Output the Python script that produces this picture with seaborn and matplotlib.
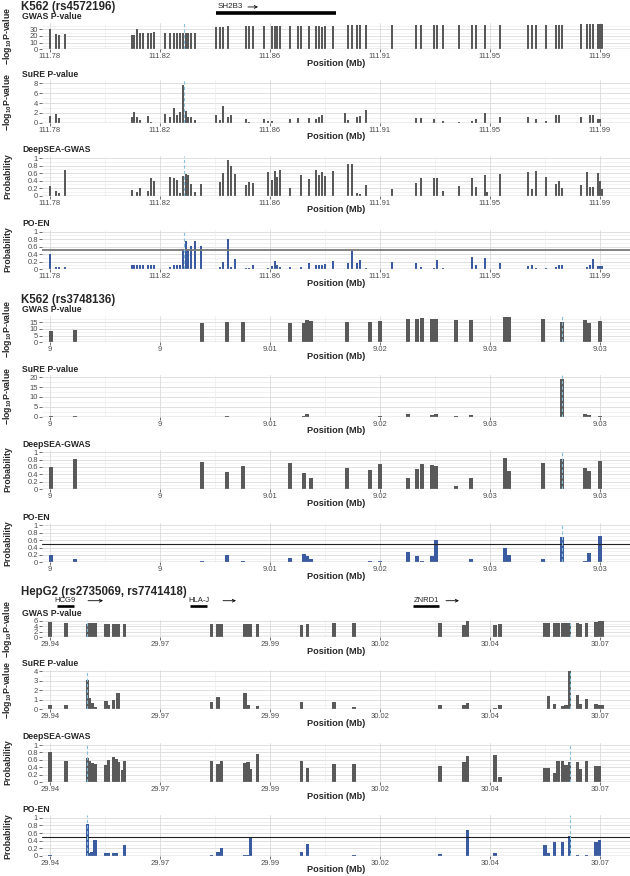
import matplotlib
matplotlib.use("Agg")
import matplotlib.pyplot as plt
import seaborn as sns

sns.set_theme(style="white")
plt.rcParams['font.family'] = ['Liberation Sans', 'DejaVu Sans']
plt.rcParams['mathtext.fontset'] = 'custom'
plt.rcParams['mathtext.rm'] = 'Liberation Sans'
plt.rcParams['mathtext.bf'] = 'Liberation Sans:bold'
plt.rcParams['mathtext.default'] = 'bf'

# ---------------------------------------------------------------- data
# K562 (rs4572196)
s1_pos = [111.7800, 111.7823, 111.7834, 111.7857, 111.8113, 111.8121, 111.8132, 111.8144, 111.8155, 111.8174,
          111.8186, 111.8197, 111.8239, 111.8258, 111.8273, 111.8285, 111.8296, 111.8308, 111.8319, 111.8327,
          111.8338, 111.8354, 111.8377, 111.8434, 111.8449, 111.8461, 111.8480, 111.8491, 111.8506, 111.8548,
          111.8560, 111.8575, 111.8617, 111.8632, 111.8648, 111.8659, 111.8667, 111.8678, 111.8716, 111.8747,
          111.8758, 111.8789, 111.8816, 111.8827, 111.8838, 111.8850, 111.8881, 111.8926, 111.8938, 111.8953,
          111.8972, 111.8984, 111.9006, 111.9106, 111.9197, 111.9217, 111.9266, 111.9278, 111.9300, 111.9362,
          111.9411, 111.9426, 111.9461, 111.9468, 111.9518, 111.9625, 111.9640, 111.9656, 111.9694, 111.9732,
          111.9743, 111.9755, 111.9827, 111.9850, 111.9862, 111.9873, 111.9892, 111.9900, 111.9908]
s1_gwas = [30, 23, 22, 23, 22, 22, 31, 24, 25, 25, 25, 26, 25, 25, 25, 25, 25, 25, 25, 25,
           25, 25, 0, 34, 34, 33, 35, 0, 0, 35, 35, 35, 35, 0, 35, 35, 35, 35, 35, 35,
           35, 35, 35, 35, 33, 35, 35, 0, 37, 37, 37, 37, 37, 37, 37, 37, 37, 37, 37, 37,
           37, 37, 37, 0, 37, 37, 37, 37, 37, 37, 37, 37, 38, 38, 38, 38, 38, 38, 38]
s1_sure = [1.4, 1.8, 0.9, 0, 1.1, 2.1, 1.1, 0.5, 0, 1.4, 0.2, 0, 1.8, 1.1, 2.9, 1.6, 2.2, 7.7, 2.4, 1.2,
           1.2, 0.5, 0, 1.6, 0.5, 3.4, 1.1, 1.6, 0, 0.7, 0.2, 0, 0.7, 0.3, 0.3, 0, 0, 0, 0.7, 1.0,
           0, 1.0, 0.7, 1.2, 1.6, 0, 0, 2.0, 0.5, 0, 1.2, 1.4, 2.6, 0, 0.9, 0.9, 0.7, 0, 0.4, 0.2,
           0.4, 0.7, 1.9, 0, 1.1, 1.1, 0, 0.7, 0.4, 1.6, 1.6, 0, 1.2, 0, 1.6, 1.6, 0.7, 0.7, 0]
s1_deepsea = [0.26, 0.13, 0.08, 0.69, 0.15, 0, 0.09, 0.21, 0, 0.13, 0.48, 0.40, 0, 0.49, 0.46, 0.42, 0.08, 0.53,
              0.57, 0.54, 0.30, 0.11, 0.30, 0, 0.37, 0.60, 0.96, 0.79, 0.57, 0.29, 0.37, 0.33, 0, 0.63, 0.42,
              0.67, 0.51, 0.69, 0.20, 0, 0.55, 0.44, 0.69, 0.55, 0.63, 0.53, 0.67, 0, 0.84, 0.84, 0.08, 0.05,
              0.29, 0.18, 0.33, 0.48, 0.46, 0.46, 0.13, 0.26, 0.46, 0.22, 0.55, 0.09, 0.57, 0.63, 0.17, 0.67,
              0.51, 0.30, 0.40, 0.21, 0.29, 0.62, 0.22, 0.22, 0.60, 0.40, 0.18]
s1_poen = [0.39, 0.06, 0.06, 0.06, 0.11, 0.12, 0.11, 0.11, 0.11, 0.12, 0.12, 0.12, 0, 0.06, 0.12, 0.12, 0.12, 0.54,
           0.75, 0.54, 0.62, 0.75, 0.62, 0, 0.06, 0.20, 0.80, 0.06, 0.27, 0.03, 0.03, 0.12, 0, 0.03, 0.09,
           0.21, 0.10, 0.06, 0.06, 0, 0.06, 0.16, 0.11, 0.12, 0.12, 0.13, 0.22, 0, 0.15, 0.48, 0.15, 0.24,
           0.03, 0.18, 0.15, 0.06, 0.03, 0.24, 0.03, 0, 0.31, 0.10, 0.30, 0, 0.15, 0.09, 0.10, 0.03, 0.03,
           0.06, 0.12, 0.12, 0, 0.06, 0.12, 0.28, 0.09, 0.09, 0.09]
s1_lead = [111.8312]
s1_ticks = [111.78, 111.822, 111.864, 111.906, 111.948, 111.99]
s1_labels = ['111.78', '111.82', '111.86', '111.91', '111.95', '111.99']
s1_genes = ['SH2B3']
s1_gene_start = [111.8434]
s1_gene_end = [111.8892]
s1_arrow_start = [111.8556]
s1_arrow_end = [111.8594]

# K562 (rs3748136)
s2_pos = [8.99756, 8.99909, 9.00717, 9.00876, 9.00978, 9.01277, 9.01366, 9.01386, 9.01411, 9.01640,
          9.01786, 9.01850, 9.02028, 9.02086, 9.02117, 9.02181, 9.02206, 9.02334, 9.02429, 9.02646,
          9.02671, 9.02887, 9.03008, 9.03155, 9.03180, 9.03250]
s2_gwas = [8.5, 9.3, 14.2, 15.5, 15.5, 14.8, 14.8, 17.0, 16.0, 15.5, 15.5, 16.0, 17.5, 17.2, 18.0, 17.5,
           17.5, 16.8, 16.8, 19.2, 18.7, 17.2, 15.5, 16.8, 14.8, 16.0]
s2_sure = [0.3, 0.4, 0, 0.3, 0, 0, 0.5, 1.5, 0, 0, 0, 0.3, 1.2, 0, 0, 0.7, 1.2, 0.5, 0.7, 0, 0, 0,
           19.3, 1.2, 0.7, 0.3]
s2_deepsea = [0.59, 0.82, 0.73, 0.47, 0.64, 0.70, 0.43, 0, 0.29, 0.58, 0.52, 0.67, 0.29, 0.54, 0.67,
              0.66, 0.63, 0.09, 0.29, 0.84, 0.50, 0.70, 0.81, 0.56, 0.50, 0.76]
s2_poen = [0.21, 0.10, 0.03, 0.20, 0.04, 0.11, 0.22, 0.16, 0.10, 0, 0.04, 0.04, 0.27, 0.17, 0.04, 0.17,
           0.60, 0.02, 0.08, 0.38, 0.20, 0.10, 0.69, 0.04, 0.26, 0.72]
s2_lead = [9.03008]
s2_ticks = [8.9975, 9.0045, 9.0115, 9.0185, 9.0255, 9.0325]
s2_labels = ['9', '9', '9.01', '9.02', '9.03', '9.03']

# HepG2 (rs2735069, rs7741418)
s3_pos = [29.94000, 29.94364, 29.94852, 29.94898, 29.94955, 29.95023, 29.95273, 29.95330, 29.95443,
          29.95500, 29.95545, 29.95648, 29.95693, 29.97670, 29.97818, 29.97898, 29.98432, 29.98500,
          29.98557, 29.98716, 29.99716, 29.99852, 30.00455, 30.00909, 30.02864, 30.03409, 30.03489,
          30.04114, 30.04227, 30.05250, 30.05330, 30.05466, 30.05545, 30.05648, 30.05727, 30.05807,
          30.05989, 30.06045, 30.06193, 30.06409, 30.06489, 30.06545]
s3_gwas = [5.5, 5.2, 4.9, 5.2, 5.2, 5.2, 4.9, 4.9, 4.9, 4.9, 4.9, 0, 5.0, 4.9, 4.9, 4.9, 4.9, 4.9, 4.8,
           4.9, 4.4, 4.9, 5.2, 5.2, 5.2, 4.4, 6.0, 4.7, 4.9, 5.2, 5.2, 5.2, 5.2, 5.2, 5.2, 5.4, 5.2,
           5.0, 5.2, 5.8, 6.0, 6.0]
s3_sure = [0.45, 0.45, 3.1, 1.16, 0.7, 0.2, 0.85, 0.45, 1.0, 0, 1.75, 0, 0, 0.75, 1.3, 0, 1.7, 0.45,
           0, 0.3, 0.75, 0.05, 0.8, 0.25, 0.45, 0.5, 0.7, 0.15, 0.45, 0, 1.37, 0.6, 0, 0.3, 0.45, 4.0,
           1.5, 0.6, 1.05, 0.6, 0.5, 0.5]
s3_deepsea = [0.80, 0.58, 0.64, 0.58, 0.53, 0.49, 0.46, 0.60, 0.67, 0.62, 0.55, 0.33, 0.57, 0.57, 0.49,
              0.57, 0.53, 0.55, 0.35, 0.75, 0.57, 0.39, 0.49, 0.48, 0.45, 0.55, 0.71, 0.73, 0.13, 0.38,
              0.38, 0.26, 0.58, 0.57, 0.46, 0.55, 0.55, 0.35, 0.57, 0.44, 0.45, 0]
s3_poen = [0.03, 0, 0.83, 0.07, 0.11, 0.42, 0.09, 0.07, 0.07, 0.07, 0, 0, 0.30, 0.03, 0.11, 0.22, 0.02,
           0.02, 0.50, 0, 0.11, 0.31, 0, 0.03, 0.04, 0, 0.68, 0.07, 0, 0.30, 0.07, 0.37, 0, 0.37, 0,
           0.52, 0.03, 0, 0.03, 0.36, 0.43, 0]
s3_lead = [29.94852, 30.05807]
s3_ticks = [29.94, 29.965, 29.99, 30.015, 30.04, 30.065]
s3_labels = ['29.94', '29.97', '29.99', '30.02', '30.04', '30.07']
s3_genes = ['HCG9', 'HLA-J', 'ZNRD1']
s3_gene_start = [29.94159, 29.97182, 30.02250]
s3_gene_end = [29.94545, 29.97568, 30.02841]
s3_arrow_start = [29.94864, 29.97932, 30.03000]
s3_arrow_end = [29.95205, 29.98227, 30.03295]

# ---------------------------------------------------------------- layout
W, H = 630, 876
LEFT, RIGHT = 42, 630
GREY = '#595959'
BLUE = '#3A5BA0'
LOGLAB = '$-$log$_{10}$P-value'


def rect(top, bottom):
    return [LEFT / W, 1 - bottom / H, (RIGHT - LEFT) / W, (bottom - top) / H]


def xlims(ticks):
    step = (ticks[1] - ticks[0]) / 110.0
    return ticks[0] - 8 * step, ticks[0] + 580 * step


def panel(ax, pos, vals, width, color, ytop, yticks, ticks, labels, lead, hline=None):
    lo, hi = xlims(ticks)
    ax.set_xlim(lo, hi)
    ax.set_ylim(0, ytop)
    half = (yticks[1] - yticks[0]) / 2
    for v in yticks:
        ax.axhline(v, color='#dadada', lw=0.6, zorder=0)
    for v in yticks:
        if v + half < ytop:
            ax.axhline(v + half, color='#ebebeb', lw=0.45, zorder=0)
    for t in ticks:
        ax.axvline(t, color='#dadada', lw=0.6, zorder=0)
    for a, b in zip(ticks[:-1], ticks[1:]):
        ax.axvline((a + b) / 2, color='#ebebeb', lw=0.45, zorder=0)
    ax.bar(pos, vals, width=width, color=color, linewidth=0, zorder=2)
    ax.axhline(0, color='#a8a8a8', lw=1.0, zorder=3)
    if hline is not None:
        ax.axhline(0.5, color=hline[0], lw=hline[1], zorder=3)
    for l in lead:
        ax.axvline(l, color='#86c0dc', lw=0.8, ls=(0, (3, 2)), zorder=4)
    ax.set_xticks(ticks)
    ax.set_xticklabels(labels)
    ax.set_yticks(yticks)
    ax.set_yticklabels([('%g' % v) for v in yticks])
    ax.tick_params(axis='both', which='major', labelsize=5.5, labelcolor='#4d4d4d',
                   length=2, width=0.5, color='#333333', pad=1, direction='out',
                   bottom=True, left=True)
    sns.despine(ax=ax, left=True, bottom=True)


fig = plt.figure(figsize=(6.3, 8.76), dpi=100)


def ftext(xpx, ypx, s, **kw):
    fig.text(xpx / W, 1 - ypx / H, s, **kw)


prob_ticks = [0, 0.2, 0.4, 0.6, 0.8, 1]

sections = [
    dict(title='K562 (rs4572196)', ty=7, pos=s1_pos, width=0.001, ticks=s1_ticks, labels=s1_labels,
         lead=s1_lead, hline=('#7a7a7a', 1.3),
         rows=[('GWAS P-value', LOGLAB, s1_gwas, GREY, 22.6, 49.3, 40, [0, 10, 20, 30]),
               ('SuRE P-value', LOGLAB, s1_sure, GREY, 80.4, 122.7, 8.6, [0, 2, 4, 6, 8]),
               ('DeepSEA-GWAS', 'Probability', s1_deepsea, GREY, 156, 195.7, 1.06, prob_ticks),
               ('PO-EN', 'Probability', s1_poen, BLUE, 229.5, 269, 1.06, prob_ticks)]),
    dict(title='K562 (rs3748136)', ty=300, pos=s2_pos, width=0.00028, ticks=s2_ticks, labels=s2_labels,
         lead=s2_lead, hline=('#222222', 0.8),
         rows=[('GWAS P-value', LOGLAB, s2_gwas, GREY, 315.8, 342.3, 19.9, [0, 5, 10, 15]),
               ('SuRE P-value', LOGLAB, s2_sure, GREY, 375.3, 416.7, 21, [0, 5, 10, 15, 20]),
               ('DeepSEA-GWAS', 'Probability', s2_deepsea, GREY, 450.1, 489, 1.06, prob_ticks),
               ('PO-EN', 'Probability', s2_poen, BLUE, 523.1, 562.3, 1.06, prob_ticks)]),
    dict(title='HepG2 (rs2735069, rs7741418)', ty=592, pos=s3_pos, width=0.0008, ticks=s3_ticks,
         labels=s3_labels, lead=s3_lead, hline=('#222222', 0.8),
         rows=[('GWAS P-value', LOGLAB, s3_gwas, GREY, 619.9, 637.3, 6.4, [0, 2, 4, 6]),
               ('SuRE P-value', LOGLAB, s3_sure, GREY, 669.6, 709.3, 4.2, [0, 1, 2, 3, 4]),
               ('DeepSEA-GWAS', 'Probability', s3_deepsea, GREY, 742.8, 782.3, 1.06, prob_ticks),
               ('PO-EN', 'Probability', s3_poen, BLUE, 815.4, 856, 1.06, prob_ticks)]),
]

for sec in sections:
    ftext(21, sec['ty'], sec['title'], fontsize=8.3, fontweight='bold', va='center', ha='left')
    for name, ylab, vals, color, top, bottom, ytop, yticks in sec['rows']:
        ax = fig.add_axes(rect(top, bottom))
        panel(ax, sec['pos'], vals, sec['width'], color, ytop, yticks, sec['ticks'], sec['labels'],
              sec['lead'], hline=sec['hline'] if name == 'PO-EN' else None)
        ftext(22, top - 6, name, fontsize=6.2, fontweight='bold', va='center', ha='left')
        ftext(336, bottom + 14, 'Position (Mb)', fontsize=6.6, fontweight='bold', va='center', ha='center')
        ftext(8, (top + bottom) / 2, ylab, fontsize=6.3, fontweight='bold', va='center', ha='center',
              rotation=90)

# gene tracks
g1 = fig.add_axes(rect(2, 17))
g1.set_xlim(*xlims(s1_ticks))
g1.set_ylim(0, 1)
g1.axis('off')
for name, a, b, a0, a1 in zip(s1_genes, s1_gene_start, s1_gene_end, s1_arrow_start, s1_arrow_end):
    g1.plot([a, b], [0.27, 0.27], color='black', lw=2.6, solid_capstyle='butt')
    g1.text(a + 0.0007, 0.67, name, fontsize=5.8, va='center', ha='left')
    g1.annotate('', xy=(a1, 0.67), xytext=(a0, 0.67),
                arrowprops=dict(arrowstyle='->', lw=0.6, color='black', mutation_scale=5,
                                shrinkA=0, shrinkB=0))

g3 = fig.add_axes(rect(595, 610))
g3.set_xlim(*xlims(s3_ticks))
g3.set_ylim(0, 1)
g3.axis('off')
for name, a, b, a0, a1 in zip(s3_genes, s3_gene_start, s3_gene_end, s3_arrow_start, s3_arrow_end):
    g3.plot([a, b], [0.27, 0.27], color='black', lw=1.9, solid_capstyle='butt')
    g3.text((a + b) / 2, 0.62, name, fontsize=5.5, va='center', ha='center')
    g3.annotate('', xy=(a1, 0.62), xytext=(a0, 0.62),
                arrowprops=dict(arrowstyle='->', lw=0.6, color='black', mutation_scale=5,
                                shrinkA=0, shrinkB=0))

fig.savefig('out.png', dpi=100)
